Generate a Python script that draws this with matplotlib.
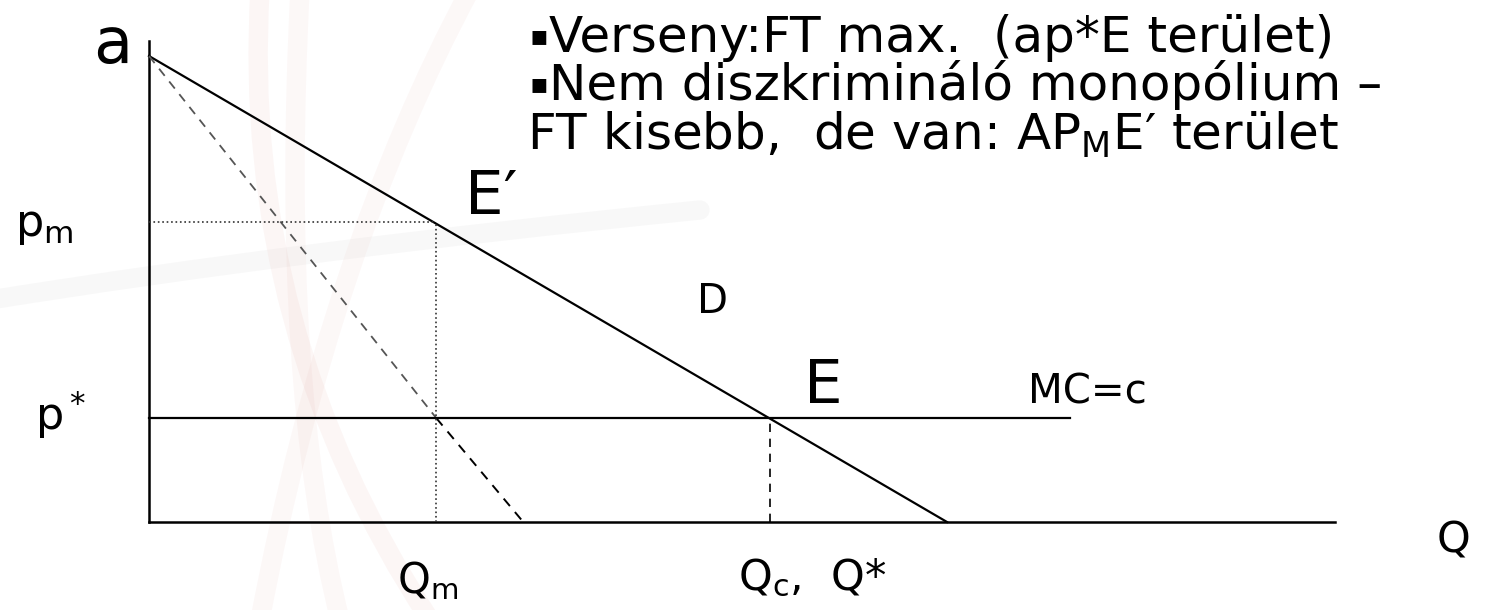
import numpy as np
import matplotlib.pyplot as plt
from matplotlib.path import Path
from matplotlib.patches import PathPatch

# model values (price on y, quantity on x)
a = 10.0
demand_q = [0.0, 10.0]
demand_p = [a, 0.0]
p_star = 2.23
p_m = 6.43
q_m = 3.60
q_c = 7.78
mr_q = [0.0, q_m, 4.69]
mr_p = [a, p_star, 0.0]
mc_q = [0.0, 11.54]
q_axis_end = 14.86
p_axis_top = 10.32

notes = ['Verseny:FT max.  (ap*E terület)',
 'Nem diszkrimináló monopólium \u2013',
 'FT kisebb,  de van: AP$_\\mathregular{M}$E\u2032 terület']

# pixel -> data helpers for placing the labels
def px(x):
 return (x - 149) / 79.8
def py(y):
 return (522 - y) / 46.6

fig = plt.figure(figsize=(14.86, 6.10), dpi=100)
ax = fig.add_axes([0, 0, 1, 1])
ax.set_xlim(px(0), px(1486))
ax.set_ylim(py(610), py(0))
ax.axis('off')

# faint logo swooshes in the background
swooshes = [
 ([(260, -10), (240, 330), (430, 620)], '#c0392b', 0.045),
 ([(300, -10), (280, 380), (340, 620)], '#c0392b', 0.035),
 ([(470, -10), (330, 250), (260, 620)], '#c0392b', 0.035),
 ([(-10, 300), (300, 250), (700, 210)], '#888888', 0.05),
]
for pts, col, al in swooshes:
 verts = [(px(x), py(y)) for x, y in pts]
 path = Path(verts, [Path.MOVETO, Path.CURVE3, Path.CURVE3])
 ax.add_patch(PathPatch(path, fill=False, lw=14, color=col, alpha=al, capstyle='round'))

# axes
ax.plot([0, 0], [0, p_axis_top], color='black', lw=1.8)
ax.plot([0, q_axis_end], [0, 0], color='black', lw=1.8)

# demand, marginal revenue, marginal cost
ax.plot(demand_q, demand_p, color='black', lw=1.6)
ax.plot(mr_q[:2], mr_p[:2], color='#555555', lw=1.3, linestyle=(0, (5, 4)))
ax.plot(mr_q[1:], mr_p[1:], color='black', lw=1.4, linestyle=(0, (5, 4)))
ax.plot(mc_q, [p_star, p_star], color='black', lw=1.6)

# guide lines
ax.plot([0, q_m], [p_m, p_m], color='#333333', lw=1.2, linestyle=':')
ax.plot([q_m, q_m], [0, p_m], color='#333333', lw=1.2, linestyle=':')
ax.plot([q_c, q_c], [0, p_star], color='black', lw=1.2, linestyle=(0, (5, 4)))

fam = 'DejaVu Sans'
def lab(x, y, s, size, ha='left'):
 ax.text(px(x), py(y), s, fontsize=size, family=fam, ha=ha, va='baseline', color='black')

lab(132, 63, 'a', 46, ha='right')
lab(15, 236, r'p$_\mathregular{m}$', 32)
lab(35, 430, 'p$^*$', 32)
lab(465, 214, 'E\u2032', 44)
lab(697, 313, 'D', 29)
lab(804, 403, 'E', 44)
lab(1028, 403, 'MC=c', 29)
lab(1437, 553, 'Q', 31)
lab(397, 593, r'Q$_\mathregular{m}$', 30)
lab(738, 590, r'Q$_\mathregular{c}$,  Q*', 31)

# notes at top right
lab(529, 44, '\u25aa', 20)
lab(549, 52, notes[0], 36)
lab(529, 92, '\u25aa', 20)
lab(549, 100, notes[1], 36)
lab(527, 150, notes[2], 36)

fig.savefig('out.png', dpi=100, facecolor='white')
